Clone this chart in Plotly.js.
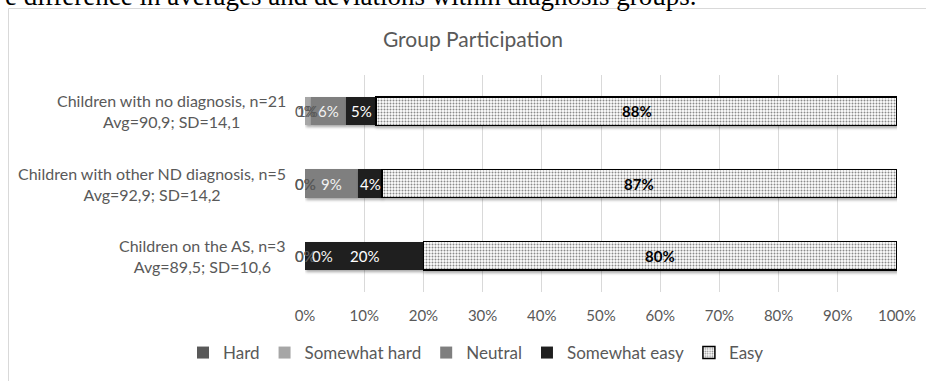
<!DOCTYPE html>
<html>
<head>
<meta charset="utf-8">
<script src="https://cdn.plot.ly/plotly-3.0.1.min.js"></script>
<style>
  html, body { margin: 0; padding: 0; background: #fff; overflow: hidden; }
  #chart { width: 926px; height: 381px; }
  .trace.bars .point path { filter: drop-shadow(1px 2px 1.5px rgba(0,0,0,0.35)); }
</style>
</head>
<body>
<div id="chart"></div>
<script>
// Group rows, top to bottom
const groups = [
  'Children with no diagnosis, n=21',
  'Children with other ND diagnosis, n=5',
  'Children on the AS, n=3'
];
const groupStats = [
  'Avg=90,9; SD=14,1',
  'Avg=92,9; SD=14,2',
  'Avg=89,5; SD=10,6'
];

// Share of answers per group, in percent
const hard         = [0, 0, 0];
const somewhatHard = [1, 0, 0];
const neutral      = [6, 9, 0];
const somewhatEasy = [5, 4, 20];
const easy         = [88, 87, 80];

const seriesNames = ['Hard', 'Somewhat hard', 'Neutral', 'Somewhat easy', 'Easy'];
const xTickValues = [0, 10, 20, 30, 40, 50, 60, 70, 80, 90, 100];

const FONT = 'Lato, "Open Sans", sans-serif';
const GREY_TEXT = '#595959';

const seriesValues = [hard, somewhatHard, neutral, somewhatEasy, easy];
const seriesStyle = [
  { color: '#595959', label: GREY_TEXT, bold: false },
  { color: '#a6a6a6', label: GREY_TEXT, bold: false },
  { color: '#7f7f7f', label: '#f2f2f2', bold: false },
  { color: '#1f1f1f', label: '#ffffff', bold: false },
  { color: '#ffffff', label: '#000000', bold: true }
];

const traces = seriesValues.map((vals, i) => {
  const t = {
    type: 'bar',
    orientation: 'h',
    name: seriesNames[i],
    y: groups,
    x: vals,
    marker: { color: seriesStyle[i].color, line: { width: 0 } },
    hoverinfo: 'skip'
  };
  if (i === 4) {
    t.marker = {
      color: '#ffffff',
      line: { color: '#000000', width: 1.5 },
      pattern: { shape: '.', fgcolor: '#8a8a8a', bgcolor: '#ffffff', size: 3, solidity: 0.35 }
    };
  }
  return t;
});

// Value labels, centred on each stacked segment
const annotations = [];
groups.forEach((g, r) => {
  let start = 0;
  seriesValues.forEach((vals, i) => {
    const v = vals[r];
    const ann = {
      xref: 'x', yref: 'y',
      x: start + v / 2, y: g,
      text: seriesStyle[i].bold ? '<b>' + v + '%</b>' : v + '%',
      showarrow: false,
      font: { family: FONT, size: 15, color: seriesStyle[i].label },
      xanchor: 'center', yanchor: 'middle'
    };
    // the empty neutral segment of the last row carries its label inside the dark bar
    if (i === 2 && v === 0 && r === 2) ann.xshift = 17;
    annotations.push(ann);
    start += v;
  });
});

// Two-line row labels on the left
groups.forEach((g, r) => {
  annotations.push({
    xref: 'paper', yref: 'y',
    x: -0.028, y: g,
    xanchor: 'right', yanchor: 'middle', align: 'center',
    text: g + '<br>' + groupStats[r],
    showarrow: false,
    font: { family: FONT, size: 16, color: GREY_TEXT }
  });
});

// Caption line running above the chart frame
annotations.push({
  xref: 'paper', yref: 'paper',
  x: (3 - 305) / 592, y: (292 + 4.5) / 217,
  xanchor: 'left', yanchor: 'middle',
  text: 'e difference in averages and deviations within diagnosis groups.',
  showarrow: false,
  font: { family: '"Liberation Serif", "DejaVu Serif", serif', size: 27, color: '#000000' }
});

const layout = {
  width: 926,
  height: 381,
  margin: { l: 305, r: 29, t: 75, b: 89 },
  paper_bgcolor: '#ffffff',
  plot_bgcolor: '#ffffff',
  barmode: 'stack',
  bargap: 0.61,
  showlegend: true,
  title: {
    text: 'Group Participation',
    font: { family: FONT, size: 21, color: GREY_TEXT },
    xref: 'container', x: 473 / 926, xanchor: 'center',
    yref: 'container', y: 1 - 40 / 381, yanchor: 'middle'
  },
  xaxis: {
    range: [0, 100],
    tickvals: xTickValues,
    ticktext: xTickValues.map(v => v + '%'),
    showgrid: true,
    gridcolor: '#d9d9d9',
    gridwidth: 1,
    zeroline: false,
    showline: false,
    ticks: 'outside',
    ticklen: 10,
    tickcolor: 'rgba(0,0,0,0)',
    tickfont: { family: FONT, size: 15, color: GREY_TEXT },
    fixedrange: true
  },
  yaxis: {
    type: 'category',
    categoryorder: 'array',
    categoryarray: groups,
    autorange: 'reversed',
    showticklabels: false,
    showgrid: false,
    zeroline: false,
    showline: false,
    fixedrange: true
  },
  legend: {
    orientation: 'h',
    xref: 'container', x: 476 / 926, xanchor: 'center',
    yref: 'container', y: 1 - 353 / 381, yanchor: 'middle',
    font: { family: FONT, size: 17, color: GREY_TEXT },
    itemwidth: 30,
    traceorder: 'normal',
    bgcolor: 'rgba(0,0,0,0)'
  },
  shapes: [
    // chart frame (top and left edges)
    { type: 'line', xref: 'paper', yref: 'paper',
      x0: (8.5 - 305) / 592, x1: (940 - 305) / 592,
      y0: (292 - 8.5) / 217, y1: (292 - 8.5) / 217,
      line: { color: '#d9d9d9', width: 1 } },
    { type: 'line', xref: 'paper', yref: 'paper',
      x0: (8.5 - 305) / 592, x1: (8.5 - 305) / 592,
      y0: (292 - 8.5) / 217, y1: (292 - 400) / 217,
      line: { color: '#d9d9d9', width: 1 } }
  ],
  annotations: annotations
};

Plotly.newPlot('chart', traces, layout, { displayModeBar: false, staticPlot: true });
</script>
</body>
</html>
